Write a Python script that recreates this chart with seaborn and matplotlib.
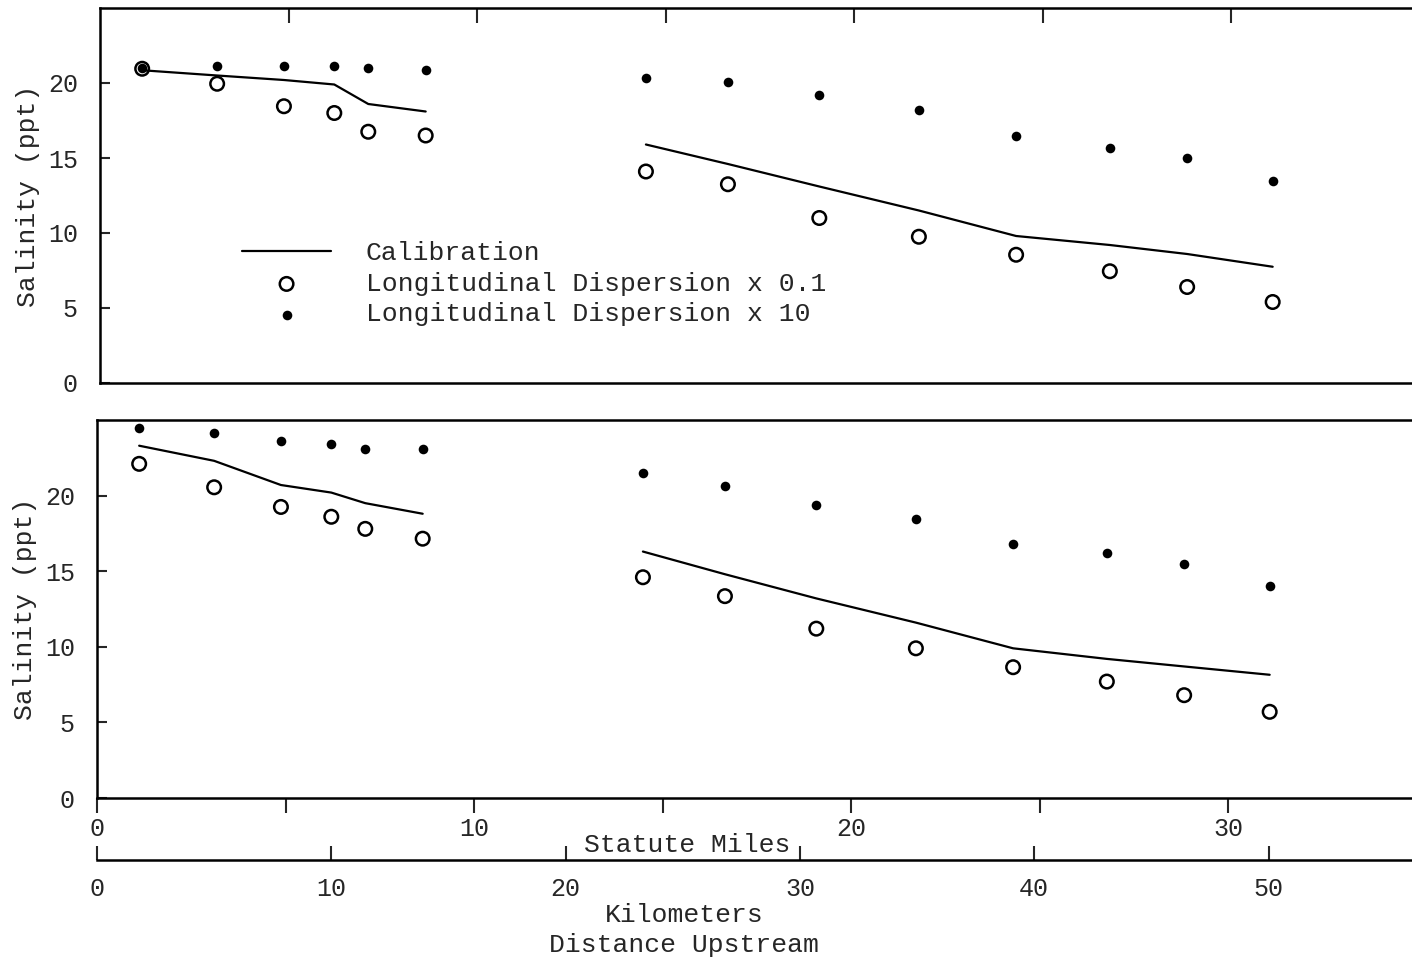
#! /usr/bin/python3

import pandas as pd
import numpy as np
import matplotlib as mpl
from matplotlib import pyplot as plt
import seaborn as sns
from collections import OrderedDict

KM_PER_MILE = 1.609344

# sampling stations, km upstream (same for both panels)
stations_km = [1.8, 5.0, 7.85, 10.0, 11.45, 13.9,
               23.3, 26.8, 30.7, 34.95, 39.1, 43.1, 46.4, 50.05]
segments = [0] * 6 + [1] * 8

# upper panel, salinity (ppt)
top_calibration = [20.85, 20.5, 20.2, 19.9, 18.6, 18.1,
                   15.9, 14.6, 13.1, 11.5, 9.8, 9.2, 8.6, 7.75]
top_disp_low = [20.95, 19.95, 18.45, 18.0, 16.75, 16.5,
                14.1, 13.25, 11.0, 9.75, 8.55, 7.45, 6.4, 5.4]
top_disp_high = [21.0, 21.1, 21.15, 21.1, 21.0, 20.85,
                 20.35, 20.05, 19.2, 18.2, 16.45, 15.65, 15.0, 13.45]

# lower panel, salinity (ppt)
bot_calibration = [23.3, 22.3, 20.7, 20.2, 19.5, 18.8,
                   16.3, 14.8, 13.2, 11.6, 9.9, 9.2, 8.7, 8.15]
bot_disp_low = [22.1, 20.55, 19.25, 18.6, 17.8, 17.15,
                14.6, 13.35, 11.2, 9.9, 8.65, 7.7, 6.8, 5.7]
bot_disp_high = [24.5, 24.15, 23.6, 23.4, 23.05, 23.05,
                 21.5, 20.65, 19.4, 18.45, 16.8, 16.2, 15.45, 14.0]

RUNS = {
    "cal": "Calibration",
    "low": "Longitudinal Dispersion x 0.1",
    "high": "Longitudinal Dispersion x 10",
}

mile_ticks = [0, 5, 10, 15, 20, 25, 30]
km_ticks = [0, 10, 20, 30, 40, 50]
y_ticks = [0, 5, 10, 15, 20]

FONT = ["Liberation Mono", "DejaVu Sans Mono"]
TICK_SIZE = 18


def make_frame(panel, cal, low, high):
    parts = []
    for key, vals in (("cal", cal), ("low", low), ("high", high)):
        parts.append(pd.DataFrame({
            "panel": panel,
            "km": stations_km,
            "segment": segments,
            "run": RUNS[key],
            "salinity": vals,
        }))
    return pd.concat(parts, ignore_index=True)


df = pd.concat([
    make_frame("top", top_calibration, top_disp_low, top_disp_high),
    make_frame("bottom", bot_calibration, bot_disp_low, bot_disp_high),
], ignore_index=True)


def plot_panel(ax, data):
    cal = data[data["run"] == RUNS["cal"]]
    low = data[data["run"] == RUNS["low"]]
    high = data[data["run"] == RUNS["high"]]
    sns.lineplot(data=cal, x="km", y="salinity", units="segment", estimator=None,
                 color="black", linewidth=1.6, label=RUNS["cal"], legend=False, ax=ax)
    sns.scatterplot(data=low, x="km", y="salinity", marker="o", s=95,
                    facecolor="none", edgecolor="black", linewidth=1.8,
                    label=RUNS["low"], legend=False, ax=ax, zorder=3)
    sns.scatterplot(data=high, x="km", y="salinity", marker="o", s=48,
                    color="black", edgecolor="black", linewidth=0,
                    label=RUNS["high"], legend=False, ax=ax, zorder=4)
    ax.set_ylim(0, 25)
    ax.set_yticks(y_ticks)
    ax.set_ylabel("Salinity (ppt)", fontsize=19)
    ax.yaxis.set_label_coords(-0.046, 0.5)
    ax.set_xlabel("")
    ax.spines["right"].set_visible(False)
    ax.tick_params(axis="y", direction="in", length=7, width=1.5, pad=16,
                   labelsize=TICK_SIZE)


sns.set_theme(style="ticks")
plt.rcParams["font.family"] = FONT
plt.rcParams["axes.linewidth"] = 1.8
plt.rcParams["axes.edgecolor"] = "black"

W, H = 1412, 964
fig = plt.figure(figsize=(W / 100, H / 100), dpi=100)

ax_top = fig.add_axes([100 / W, 1 - 383 / H, 1312 / W, 375 / H])
ax_bot = fig.add_axes([97 / W, 1 - 798 / H, 1315 / W, 378 / H])
ax_km = fig.add_axes([97 / W, 1 - 860 / H, 1315 / W, 0.0001])

plot_panel(ax_top, df[df["panel"] == "top"])
plot_panel(ax_bot, df[df["panel"] == "bottom"])

# upper panel: mile ticks on the top spine only
ax_top.set_xlim(0, 1312 / 23.43)
ax_top.set_xticks([m * KM_PER_MILE for m in mile_ticks[1:]])
ax_top.tick_params(axis="x", top=True, bottom=False, labeltop=False, labelbottom=False,
                   direction="in", length=11, width=1.5)

# lower panel: statute miles scale on its bottom spine
ax_bot.set_xlim(0, 1315 / 23.43)
ax_bot.set_xticks([m * KM_PER_MILE for m in mile_ticks])
ax_bot.set_xticklabels([str(m) if m % 10 == 0 else "" for m in mile_ticks])
ax_bot.tick_params(axis="x", top=False, bottom=True, direction="out",
                   length=11, width=1.5, pad=3, labelsize=TICK_SIZE)

# separate kilometre scale
ax_km.set_xlim(0, 1315 / 23.43)
ax_km.set_xticks(km_ticks)
ax_km.set_xticklabels([str(k) for k in km_ticks])
ax_km.set_yticks([])
for side in ("left", "right", "top"):
    ax_km.spines[side].set_visible(False)
ax_km.patch.set_visible(False)
ax_km.tick_params(axis="x", direction="in", length=10, width=1.5, pad=12,
                  labelsize=TICK_SIZE)

# legend in the upper panel
handles, labels = ax_top.get_legend_handles_labels()
by_label = OrderedDict(zip(labels, handles))
ax_top.legend(by_label.values(), by_label.keys(), loc="upper left",
              bbox_to_anchor=(0.108, 0.378), frameon=False, fontsize=19,
              handlelength=3.4, handletextpad=1.3, labelspacing=0.25,
              borderpad=0, borderaxespad=0, scatterpoints=1)

fig.text(687 / W, 1 - 845 / H, "Statute Miles", ha="center", va="center", fontsize=19)
fig.text(684 / W, 1 - 930 / H, "Kilometers\nDistance Upstream", ha="center", va="center",
         fontsize=19, linespacing=1.35)

fig.savefig("out.png", dpi=100)
